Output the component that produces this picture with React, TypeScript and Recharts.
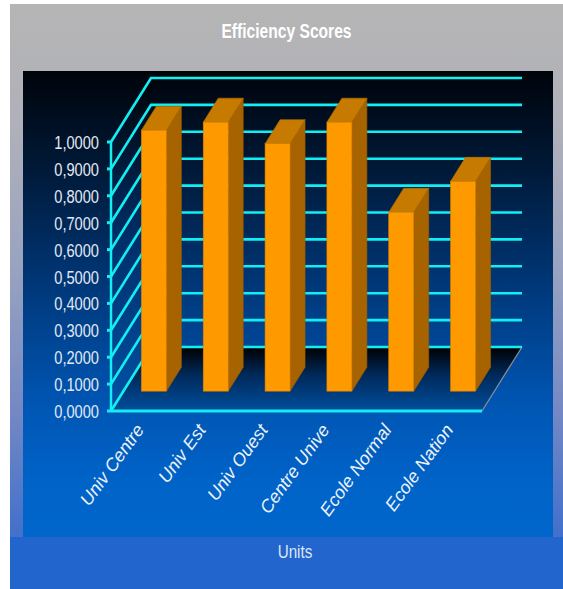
import { BarChart, Bar, XAxis, YAxis, CartesianGrid } from 'recharts'

const UNITS = ['Univ Centre', 'Univ Est', 'Univ Ouest', 'Centre Unive', 'Ecole Normal', 'Ecole Nation']
const SCORES = [0.97, 1.0, 0.92, 1.0, 0.665, 0.78]
const Y_TICKS = [0, 0.1, 0.2, 0.3, 0.4, 0.5, 0.6, 0.7, 0.8, 0.9, 1.0]

const data = UNITS.map((unit, i) => ({ unit, score: SCORES[i] }))

// 3D box depth (front plane -> back wall)
const DX = 40
const DY = 64
const BAR_FRONT = 0.31
const BAR_BACK = 0.685

const CYAN = '#12eef2'
const SANS = "'Liberation Sans', Arial, sans-serif"

const gridLine = (p: any) => {
  const { x1, y1, x2, index } = p
  const bx = x1 + DX
  const by = y1 - DY
  const line = (
    <polyline
      points={`${x1},${y1} ${bx},${by} ${x2 + DX},${by}`}
      stroke={CYAN}
      strokeWidth={2.6}
      fill="none"
    />
  )
  if (index !== 0) return <g key={`gl-${index}`}>{line}</g>
  const top = p.y
  return (
    <g key={`gl-${index}`}>
      <polygon
        points={`${x1},${y1} ${bx},${by} ${bx},${top - DY} ${x1},${top}`}
        fill="url(#wallGrad)"
      />
      <polygon
        points={`${x1},${y1} ${x2},${y1} ${x2 + DX},${by} ${bx},${by}`}
        fill="url(#floorGrad)"
      />
      <line x1={x2} y1={y1} x2={x2 + DX} y2={by} stroke="#8a8f99" strokeWidth={1.2} />
      {line}
    </g>
  )
}

const Bar3D = (p: any) => {
  const { x, y, width, height } = p
  if (!height) return null
  const fx = x + DX * BAR_FRONT
  const fy = y - DY * BAR_FRONT
  const dx = DX * (BAR_BACK - BAR_FRONT)
  const dy = DY * (BAR_BACK - BAR_FRONT)
  const r = fx + width
  const b = fy + height
  return (
    <g>
      <polygon points={`${r},${fy} ${r + dx},${fy - dy} ${r + dx},${b - dy} ${r},${b}`} fill="#a66300" stroke="#9a5c00" strokeWidth={0.6} />
      <polygon points={`${fx},${fy} ${fx + dx},${fy - dy} ${r + dx},${fy - dy} ${r},${fy}`} fill="#c77a00" stroke="#b56e00" strokeWidth={0.6} />
      <rect x={fx} y={fy} width={width} height={height} fill="#ff9900" stroke="#d98200" strokeWidth={0.6} />
    </g>
  )
}

// condensed look: no narrow font installed, so squeeze horizontally
const YTick = ({ x, y, payload }: any) => (
  <g transform={`translate(${x},${y}) scale(0.77,1)`}>
    <text x={0} y={0} dy={7} textAnchor="end" fill="#e4eaf3" fontSize={19} fontFamily={SANS}>
      {Number(payload.value).toFixed(4).replace('.', ',')}
    </text>
  </g>
)

const XTick = ({ x, y, payload }: any) => (
  <g transform={`translate(${x + 3},${y + 11})`}>
    <text
      textAnchor="end"
      transform="rotate(-54)"
      fill="#eef2f8"
      fontSize={18}
      fontStyle="italic"
      fontFamily={SANS}
    >
      {payload.value}
    </text>
  </g>
)

export default function App() {
  return (
    <div style={{ position: 'absolute', left: 0, top: 0, width: 563, height: 589, background: '#fff', overflow: 'hidden' }}>
      <div
        style={{
          position: 'absolute', left: 10, top: 4, width: 553, height: 585,
          background: 'linear-gradient(to bottom, #b5b5b5 0%, #b0b1b9 20%, #99a3c0 45%, #7388c4 70%, #4371cb 90%, #3a6dcc 100%)',
        }}
      />
      <div style={{ position: 'absolute', left: 10, top: 537, width: 553, height: 52, background: '#2265cc' }} />
      <div
        style={{
          position: 'absolute', left: 23, top: 71, width: 530, height: 466,
          background: 'linear-gradient(to bottom, #00040a 0%, #001a3a 22%, #003a7e 48%, #0056b4 72%, #0063c8 88%, #0066cc 100%)',
        }}
      />
      <div
        style={{
          position: 'absolute', left: 10, top: 20, width: 553, textAlign: 'center',
          color: '#fff', fontWeight: 'bold', fontSize: 20, fontFamily: SANS,
          transform: 'scaleX(0.78)',
        }}
      >
        Efficiency Scores
      </div>
      <div
        style={{
          position: 'absolute', left: 195, top: 541, width: 200, textAlign: 'center',
          color: '#dfe7f5', fontSize: 19, fontFamily: SANS, transform: 'scaleX(0.8)',
        }}
      >
        Units
      </div>
      <div style={{ position: 'absolute', left: 0, top: 0 }}>
        <BarChart width={563} height={589} data={data} margin={{ top: 142, right: 81, bottom: 78, left: 31 }}>
          <defs>
            <linearGradient id="floorGrad" x1="0" y1="1" x2="0" y2="0">
              <stop offset="0%" stopColor="#004e9c" />
              <stop offset="55%" stopColor="#002a5c" />
              <stop offset="100%" stopColor="#000000" />
            </linearGradient>
            <linearGradient id="wallGrad" x1="0" y1="0" x2="0" y2="1">
              <stop offset="0%" stopColor="#000306" />
              <stop offset="50%" stopColor="#00306c" />
              <stop offset="100%" stopColor="#0052a6" />
            </linearGradient>
          </defs>
          <CartesianGrid vertical={false} horizontal={gridLine} />
          <XAxis
            dataKey="unit"
            height={100}
            interval={0}
            tickLine={false}
            axisLine={{ stroke: CYAN, strokeWidth: 3 }}
            tick={<XTick />}
          />
          <YAxis
            width={80}
            domain={[0, 1]}
            ticks={Y_TICKS}
            interval={0}
            tickSize={4}
            tickMargin={8}
            tickLine={{ stroke: CYAN, strokeWidth: 3 }}
            axisLine={{ stroke: CYAN, strokeWidth: 2.5 }}
            tick={<YTick />}
          />
          <Bar dataKey="score" barSize={25} shape={<Bar3D />} isAnimationActive={false} />
        </BarChart>
      </div>
    </div>
  )
}
